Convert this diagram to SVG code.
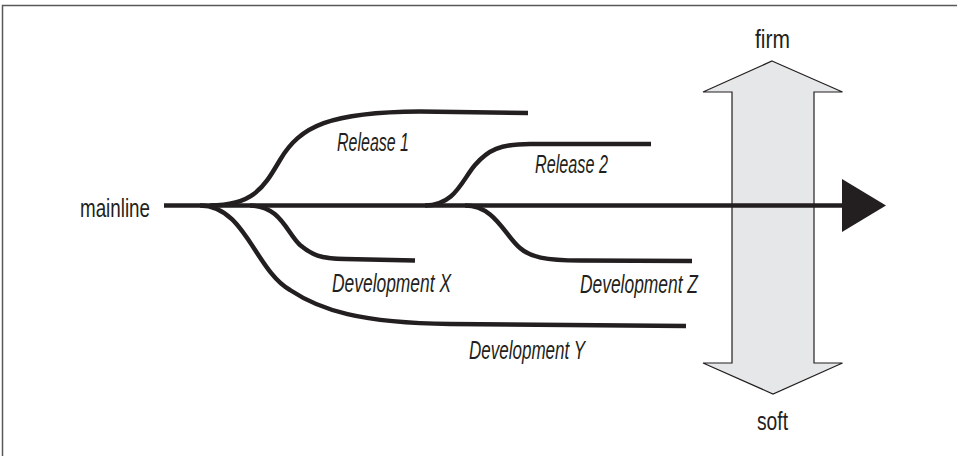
<svg xmlns="http://www.w3.org/2000/svg" width="957" height="456" viewBox="0 0 957 456">
  <style>
    .br { fill: none; stroke: #231f20; stroke-width: 4.5; stroke-linecap: butt; }
    .lbl { font-family: "Liberation Sans", Arial, sans-serif; font-size: 25px; fill: #231f20; }
    .it { font-style: italic; }
  </style>
  <rect x="0" y="0" width="957" height="456" fill="#ffffff"/>
  <g id="frame">
    <path d="M 2.5 460 L 2.5 5.5 L 960 5.5" fill="none" stroke="#58595b" stroke-width="1.5"/>
  </g>
  <g id="firm-soft-scale">
    <polygon points="772,61 842.5,92 814,92 814,363 842.5,363 773,394 703,363 732,363 732,92 703,92" fill="#e6e7e8" stroke="#231f20" stroke-width="1.2" stroke-linejoin="miter"/>
    <text class="lbl" x="755" y="48" textLength="35" lengthAdjust="spacingAndGlyphs">firm</text>
    <text class="lbl" x="757" y="430" textLength="31" lengthAdjust="spacingAndGlyphs">soft</text>
  </g>
  <g id="connectors">
    <path class="br" d="M 210 205.5 C 255 205.5 265 185 280 160 C 300 126 330 112 420 111.5 L 528 113"/>
    <path class="br" d="M 200 205.5 C 245 205.5 255 270 290 290 C 320 310 360 323 450 324 L 686 326"/>
    <path class="br" d="M 250 205.5 C 280 205.5 287 233 300 245 C 312 255 320 258.5 345 259 L 415 260.5"/>
    <path class="br" d="M 425 205.5 C 455 205.5 462 180 475 165 C 488 150 500 144 530 144 L 651 144"/>
    <path class="br" d="M 465 205.5 C 495 205.5 505 236 520 248 C 530 257 545 260.5 580 260.5 L 692 261"/>
    <path class="br" d="M 164 205.5 L 845 205.5"/>
    <polygon points="842,179 886,205.5 842,232" fill="#231f20"/>
  </g>
  <g id="mainline">
    <text class="lbl" x="80" y="217" textLength="70" lengthAdjust="spacingAndGlyphs">mainline</text>
  </g>
  <g id="release-1">
    <text class="lbl it" x="337" y="151" textLength="72" lengthAdjust="spacingAndGlyphs">Release 1</text>
  </g>
  <g id="release-2">
    <text class="lbl it" x="535" y="173" textLength="73" lengthAdjust="spacingAndGlyphs">Release 2</text>
  </g>
  <g id="development-x">
    <text class="lbl it" x="332" y="292" textLength="119" lengthAdjust="spacingAndGlyphs">Development X</text>
  </g>
  <g id="development-z">
    <text class="lbl it" x="580" y="293" textLength="118" lengthAdjust="spacingAndGlyphs">Development Z</text>
  </g>
  <g id="development-y">
    <text class="lbl it" x="469" y="359" textLength="116" lengthAdjust="spacingAndGlyphs">Development Y</text>
  </g>
</svg>
